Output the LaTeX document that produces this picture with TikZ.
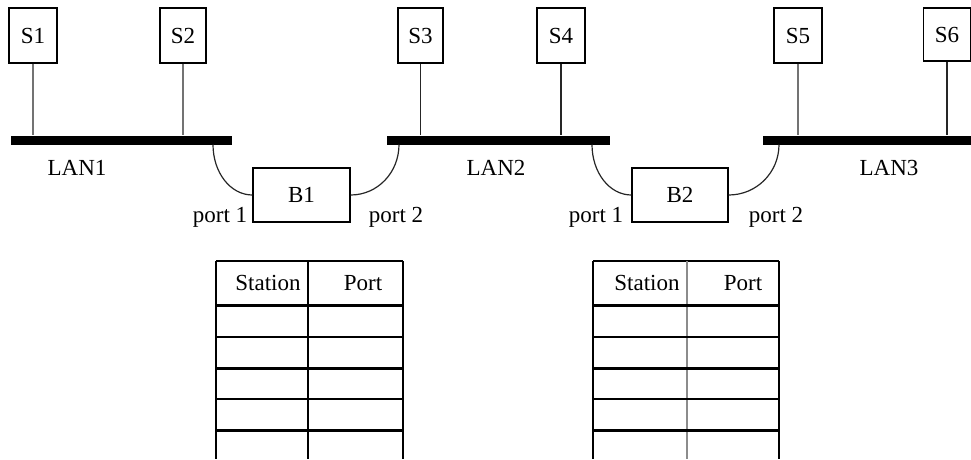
\documentclass[tikz,border=0pt]{standalone}
\usepackage{fontspec}
\setmainfont{Liberation Serif}
\begin{document}
\begin{tikzpicture}[x=1pt,y=-1pt,
 txt/.style={font=\fontsize{23}{26}\selectfont},
 station/.style={txt, draw, line width=1.2pt, inner sep=0pt, minimum height=55pt},
 bridge/.style={txt, draw, line width=1.2pt, inner sep=0pt, minimum width=97pt, minimum height=54pt},
 bus/.style={fill=black, inner sep=0pt, minimum height=9pt},
 lbl/.style={txt, inner sep=0pt},
 tapl/.style={draw=black!55, line width=1.3pt},
 tapd/.style={draw=black!85, line width=1.2pt},
 link/.style={draw=black!85, line width=1.2pt},
 tthin/.style={line width=1.4pt},
 tthick/.style={line width=3pt}]
\useasboundingbox (0,0) rectangle (971,459);

% stations
\node[station, minimum width=48pt] (s1) at (33,35.5) {S1};
\node[station, minimum width=46pt] (s2) at (183,35.5) {S2};
\node[station, minimum width=45pt] (s3) at (420.5,35.5) {S3};
\node[station, minimum width=48pt] (s4) at (561,35.5) {S4};
\node[station, minimum width=48pt] (s5) at (798,35.5) {S5};
\node[station, minimum width=47pt, minimum height=53pt] (s6) at (947,34.5) {S6};

% buses
\node[bus, minimum width=221pt] (lan1) at (121.5,140) {};
\node[bus, minimum width=223pt] (lan2) at (498.5,140) {};
\node[bus, minimum width=209pt] (lan3) at (867.5,140) {};

\node[lbl] (l1) at (77,168) {LAN1};
\node[lbl] (l2) at (496,168) {LAN2};
\node[lbl] (l3) at (889,168) {LAN3};

% taps
\draw[tapl] (s1.south) -- (s1.south |- lan1.north);
\draw[tapl] (s2.south) -- (s2.south |- lan1.north);
\draw[tapd] (s3.south) -- (s3.south |- lan2.north);
\draw[tapd] (s4.south) -- (s4.south |- lan2.north);
\draw[tapl] (s5.south) -- (s5.south |- lan3.north);
\draw[tapd] (s6.south) -- (s6.south |- lan3.north);

% bridges
\node[bridge] (b1) at (301.5,195) {B1};
\node[bridge, minimum width=96pt] (b2) at (680,195) {B2};

\coordinate (t1) at (213,144.5);
\coordinate (t2) at (399,144.5);
\coordinate (t3) at (592,144.5);
\coordinate (t4) at (779,144.5);
\draw[link] (t1) .. controls +(0,28) and +(-22,0) .. (b1.west);
\draw[link] (b1.east) .. controls +(27,0) and +(0,28) .. (t2);
\draw[link] (t3) .. controls +(0,28) and +(-22,0) .. (b2.west);
\draw[link] (b2.east) .. controls +(28,0) and +(0,28) .. (t4);

\node[lbl, anchor=base] (p11) at (220,222) {port 1};
\node[lbl, anchor=base] (p12) at (396,222) {port 2};
\node[lbl, anchor=base] (p21) at (596,222) {port 1};
\node[lbl, anchor=base] (p22) at (776,222) {port 2};

% table 1
\draw[tthin] (216,261) -- (403,261);
\draw[tthin] (216,261) -- (216,459);
\draw[tthin] (403,261) -- (403,459);
\draw[tthin] (308,261) -- (308,459);
\draw[tthick] (216,305) -- (403,305);
\draw[tthin] (216,337) -- (403,337);
\draw[tthick] (216,368) -- (403,368);
\draw[tthin] (216,399) -- (403,399);
\draw[tthick] (216,430) -- (403,430);
\node[lbl] (st1) at (268,283) {Station};
\node[lbl] (po1) at (363,283) {Port};

% table 2
\draw[tthin] (593,261) -- (779,261);
\draw[tthin] (593,261) -- (593,459);
\draw[tthin] (779,261) -- (779,459);
\draw[line width=2pt, draw=black!45] (687,261) -- (687,459);
\draw[tthick] (593,305) -- (779,305);
\draw[tthin] (593,337) -- (779,337);
\draw[tthick] (593,368) -- (779,368);
\draw[tthin] (593,399) -- (779,399);
\draw[tthick] (593,430) -- (779,430);
\node[lbl] (st2) at (647,283) {Station};
\node[lbl] (po2) at (743,283) {Port};
\end{tikzpicture}
\end{document}
